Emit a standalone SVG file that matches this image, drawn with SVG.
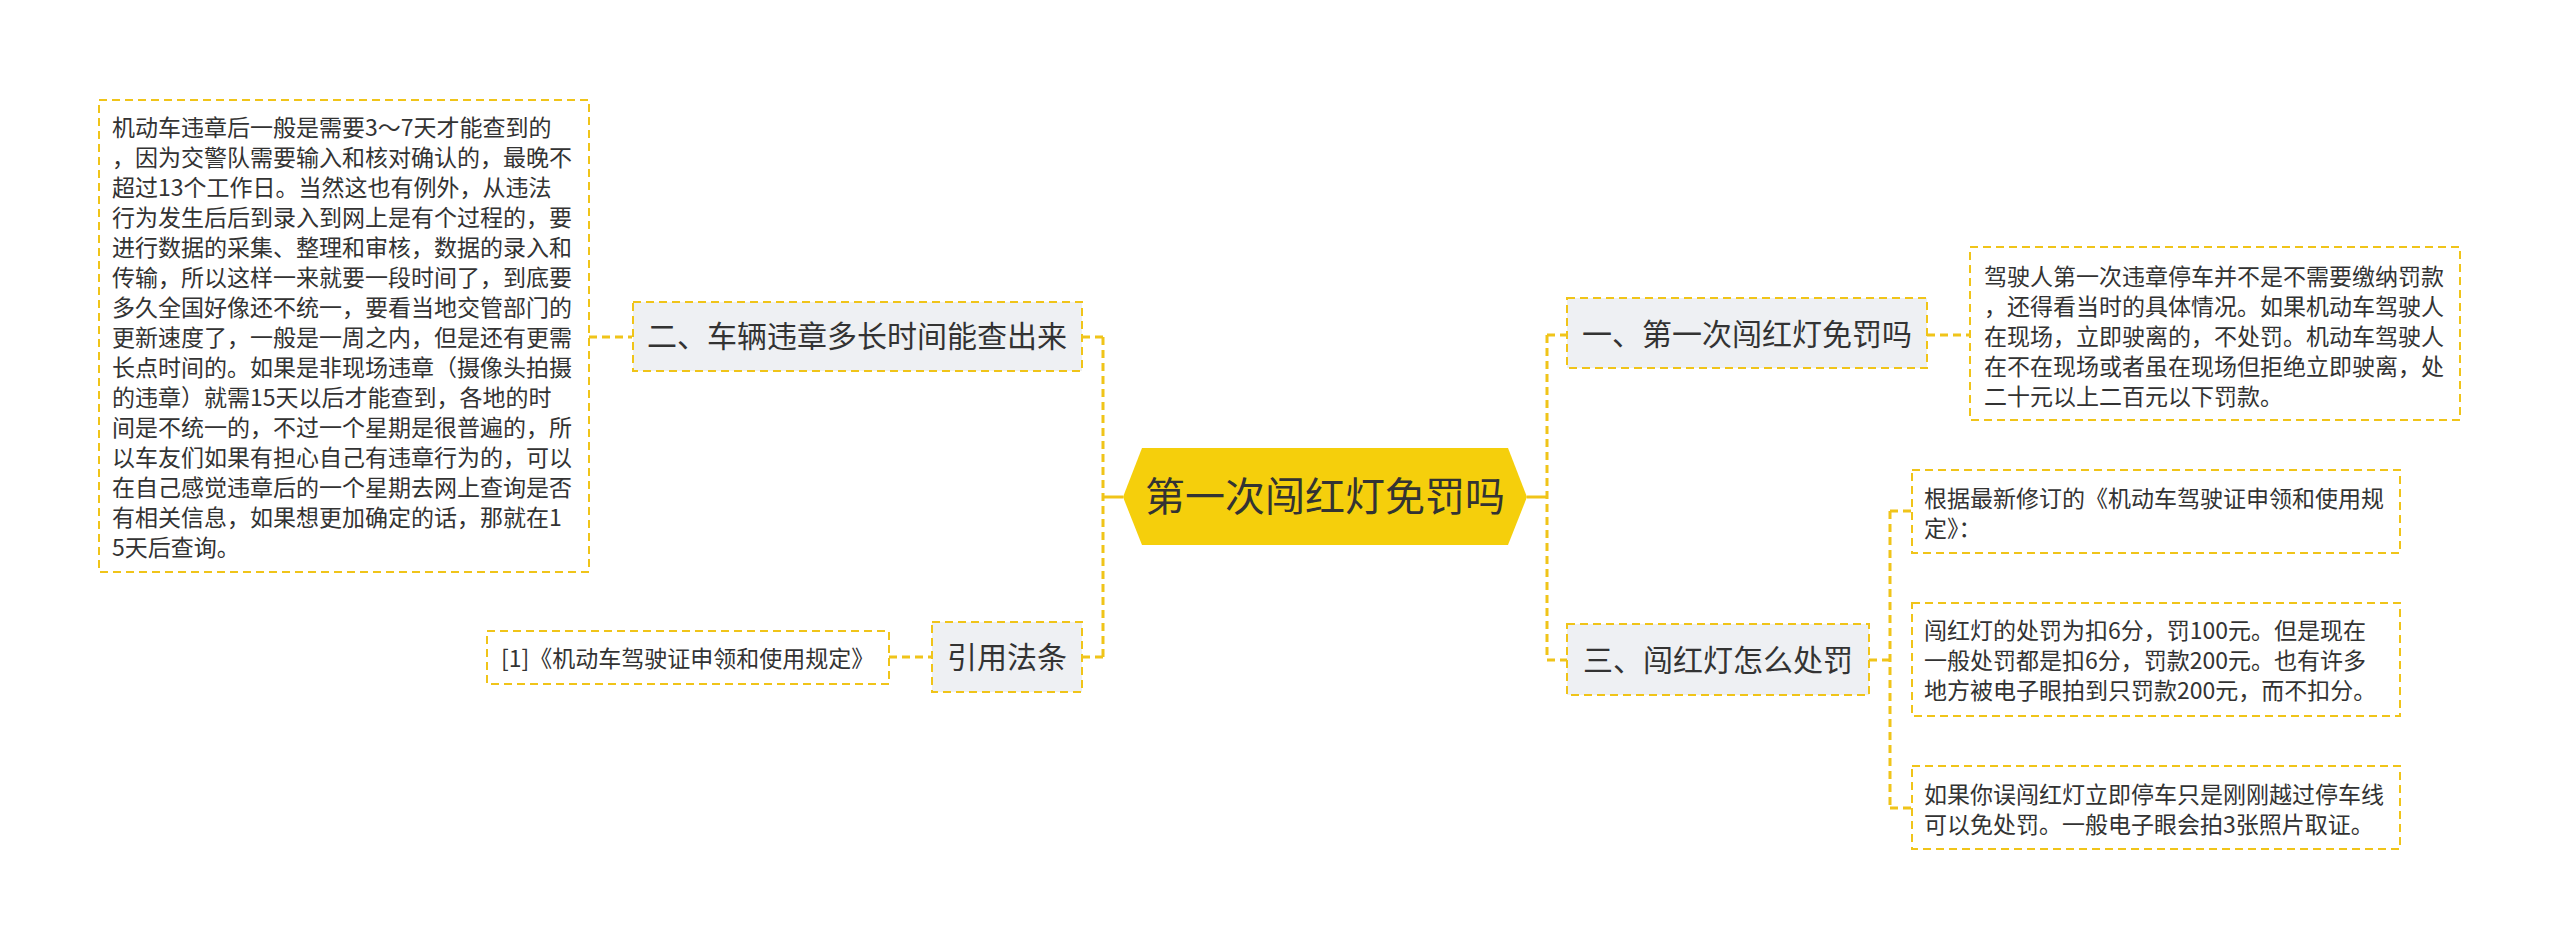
<svg xmlns="http://www.w3.org/2000/svg" width="2560" height="949" viewBox="0 0 2560 949">
<style>
text{font-family:"Noto Sans CJK SC","Noto Sans",sans-serif;fill:#333}
.leaf{fill:#fff;stroke:#f0c419;stroke-width:2;stroke-dasharray:8 5}
.topic{fill:#eef0f3;stroke:#f0c419;stroke-width:2;stroke-dasharray:8 5}
.conn{fill:none;stroke:#f0c419;stroke-width:3;stroke-dasharray:8 5}
.solid{fill:none;stroke:#f0c419;stroke-width:3}
.t23{font-size:23px}
.t30{font-size:30px}
</style>
<rect width="2560" height="949" fill="#fff"/>
<g id="connectors">
<path class="solid" d="M1123 497H1103"/>
<path class="conn" d="M1103 337V657"/>
<path class="conn" d="M1082 337H1103M1082 657H1103"/>
<path class="conn" d="M589 337H632"/>
<path class="conn" d="M889 657H932"/>
<path class="solid" d="M1527 497H1547"/>
<path class="conn" d="M1547 335V660"/>
<path class="conn" d="M1547 335H1567M1547 660H1567"/>
<path class="conn" d="M1927 335H1970"/>
<path class="conn" d="M1869 660H1890"/>
<path class="conn" d="M1890 511V808"/>
<path class="conn" d="M1890 511H1912M1890 808H1912"/>
</g>
<g id="center">
<polygon points="1123,497 1142,448 1508,448 1527,497 1508,545 1142,545" fill="#f5cf0c"/>
<text x="1325" y="511" font-size="40" text-anchor="middle">第一次闯红灯免罚吗</text>
</g>
<g id="n2">
<rect class="topic" x="633" y="302" width="449" height="69"/>
<text class="t30" x="857" y="347" text-anchor="middle">二、车辆违章多长时间能查出来</text>
</g>
<g id="n2-detail">
<rect class="leaf" x="99" y="100" width="490" height="472"/>
<text class="t23" x="112" y="135.5"><tspan x="112">机动车违章后一般是需要3～7天才能查到的</tspan><tspan x="112" dy="30">，因为交警队需要输入和核对确认的，最晚不</tspan><tspan x="112" dy="30">超过13个工作日。当然这也有例外，从违法</tspan><tspan x="112" dy="30">行为发生后后到录入到网上是有个过程的，要</tspan><tspan x="112" dy="30">进行数据的采集、整理和审核，数据的录入和</tspan><tspan x="112" dy="30">传输，所以这样一来就要一段时间了，到底要</tspan><tspan x="112" dy="30">多久全国好像还不统一，要看当地交管部门的</tspan><tspan x="112" dy="30">更新速度了，一般是一周之内，但是还有更需</tspan><tspan x="112" dy="30">长点时间的。如果是非现场违章（摄像头拍摄</tspan><tspan x="112" dy="30">的违章）就需15天以后才能查到，各地的时</tspan><tspan x="112" dy="30">间是不统一的，不过一个星期是很普遍的，所</tspan><tspan x="112" dy="30">以车友们如果有担心自己有违章行为的，可以</tspan><tspan x="112" dy="30">在自己感觉违章后的一个星期去网上查询是否</tspan><tspan x="112" dy="30">有相关信息，如果想更加确定的话，那就在1</tspan><tspan x="112" dy="30">5天后查询。</tspan></text>
</g>
<g id="n-ref">
<rect class="topic" x="932" y="622" width="150" height="70"/>
<text class="t30" x="1007" y="668" text-anchor="middle">引用法条</text>
</g>
<g id="n-ref-detail">
<rect class="leaf" x="487" y="631" width="402" height="53"/>
<text class="t23" x="501" y="666.5">[1]《机动车驾驶证申领和使用规定》</text>
</g>
<g id="n1">
<rect class="topic" x="1567" y="298" width="360" height="70"/>
<text class="t30" x="1747" y="344.5" text-anchor="middle">一、第一次闯红灯免罚吗</text>
</g>
<g id="n1-detail">
<rect class="leaf" x="1970" y="247" width="490" height="173"/>
<text class="t23" x="1984" y="284.5"><tspan x="1984">驾驶人第一次违章停车并不是不需要缴纳罚款</tspan><tspan x="1984" dy="30">，还得看当时的具体情况。如果机动车驾驶人</tspan><tspan x="1984" dy="30">在现场，立即驶离的，不处罚。机动车驾驶人</tspan><tspan x="1984" dy="30">在不在现场或者虽在现场但拒绝立即驶离，处</tspan><tspan x="1984" dy="30">二十元以上二百元以下罚款。</tspan></text>
</g>
<g id="n3">
<rect class="topic" x="1567" y="624" width="302" height="71"/>
<text class="t30" x="1718" y="671" text-anchor="middle">三、闯红灯怎么处罚</text>
</g>
<g id="n3-a">
<rect class="leaf" x="1912" y="470" width="488" height="83"/>
<text class="t23" x="1924" y="507"><tspan x="1924">根据最新修订的《机动车驾驶证申领和使用规</tspan><tspan x="1924" dy="30">定》：</tspan></text>
</g>
<g id="n3-b">
<rect class="leaf" x="1912" y="603" width="488" height="113"/>
<text class="t23" x="1924" y="639"><tspan x="1924">闯红灯的处罚为扣6分，罚100元。但是现在</tspan><tspan x="1924" dy="30">一般处罚都是扣6分，罚款200元。也有许多</tspan><tspan x="1924" dy="30">地方被电子眼拍到只罚款200元，而不扣分。</tspan></text>
</g>
<g id="n3-c">
<rect class="leaf" x="1912" y="766" width="488" height="83"/>
<text class="t23" x="1924" y="803"><tspan x="1924">如果你误闯红灯立即停车只是刚刚越过停车线</tspan><tspan x="1924" dy="30">可以免处罚。一般电子眼会拍3张照片取证。</tspan></text>
</g>
</svg>
